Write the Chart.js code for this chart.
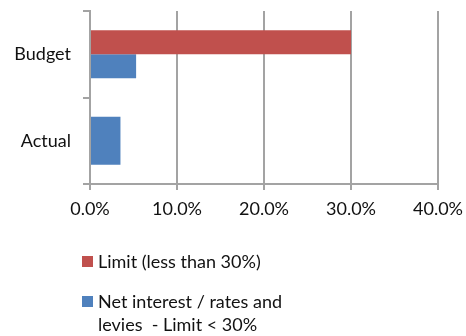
<!DOCTYPE html>
<html>
<head>
<meta charset="utf-8">
<script src="https://cdn.jsdelivr.net/npm/chart.js@4"></script>
<style>
  html, body { margin: 0; padding: 0; background: #fff; }
  #wrap { position: relative; width: 466px; height: 336px; }
  #chart { display: block; }
  #legend { position: absolute; left: 82px; top: 250px; font-family: Lato, sans-serif; font-size: 18px; color: #111; }
  .item { position: relative; padding-left: 16px; line-height: 23px; }
  .item .box { position: absolute; left: 0; top: 6px; width: 11px; height: 11px; }
  .item + .item { margin-top: 17px; }
</style>
</head>
<body>
<div id="wrap">
  <canvas id="chart" width="466" height="336"></canvas>
  <div id="legend"></div>
</div>
<script>
// Kategorije in vrednosti
const categories = ["Budget", "Actual"];
const limitValues = [30, null];
const netInterestValues = [5.3, 3.5];
const xTicks = [0, 10, 20, 30, 40];

const seriesNames = ["Limit (less than 30%)", "Net interest / rates and levies  - Limit < 30%"];
const seriesColors = ["#C0504D", "#4F81BD"];

const gridColor = "#a3a3a3";
const font = { family: "Lato, sans-serif", size: 18 };

// brez dodatnega odmika za oznake
const noPad = s => { s.paddingTop = 0; s.paddingBottom = 0; s.paddingLeft = 0; s.paddingRight = 0; };

new Chart(document.getElementById("chart"), {
  type: "bar",
  data: {
    labels: categories,
    datasets: [
      { label: seriesNames[0], data: limitValues, backgroundColor: seriesColors[0] },
      { label: seriesNames[1], data: netInterestValues, backgroundColor: seriesColors[1] }
    ]
  },
  options: {
    responsive: false,
    animation: false,
    indexAxis: "y",
    skipNull: true,
    datasets: { bar: { barPercentage: 1, categoryPercentage: 0.555 } },
    layout: { padding: { top: 11, right: 28, bottom: 112, left: 0 } },
    plugins: { legend: { display: false }, tooltip: { enabled: false } },
    scales: {
      x: {
        min: xTicks[0],
        max: xTicks[xTicks.length - 1],
        afterBuildTicks: s => { s.ticks = xTicks.map(v => ({ value: v })); },
        afterFit: s => { s.height = 40; noPad(s); },
        grid: { color: gridColor, lineWidth: 2, tickLength: 6 },
        border: { color: gridColor, width: 2 },
        ticks: { font: font, color: "#111", padding: 8, callback: v => v.toFixed(1) + "%" }
      },
      y: {
        afterFit: s => { s.width = 90; noPad(s); },
        grid: { color: gridColor, lineWidth: 2, drawOnChartArea: false, tickLength: 7 },
        border: { color: gridColor, width: 2 },
        ticks: { font: font, color: "#111", padding: 12 }
      }
    }
  }
});

// Legenda
const legend = document.getElementById("legend");
seriesNames.forEach((name, i) => {
  const item = document.createElement("div");
  item.className = "item";
  item.innerHTML = `<span class="box" style="background:${seriesColors[i]}"></span>` +
    (i === 1 ? "Net interest / rates and<br>levies&nbsp; - Limit &lt; 30%" : name);
  legend.appendChild(item);
});
</script>
</body>
</html>
